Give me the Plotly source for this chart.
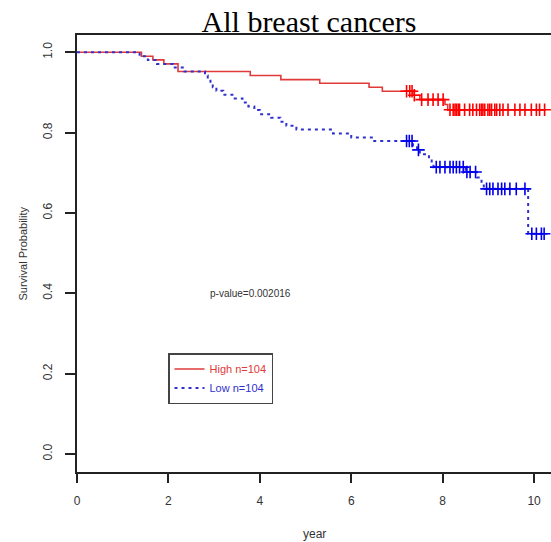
import numpy as np
import plotly.graph_objects as go

# ---------------- data ----------------
high_event_times = [1.41, 1.66, 1.90, 2.21, 3.79, 4.46, 5.31, 6.39, 6.68,
                    7.35, 7.50, 8.05, 8.11]
high_surv = [0.990, 0.981, 0.971, 0.952, 0.942, 0.932, 0.923, 0.913, 0.903,
             0.893, 0.882, 0.870, 0.857]
high_censor = [7.21, 7.28, 7.33, 7.38, 7.54, 7.68, 7.79, 7.90, 8.01,
               8.16, 8.23, 8.27, 8.30, 8.34, 8.37, 8.48, 8.59, 8.66, 8.74,
               8.81, 8.85, 8.88, 8.92, 8.99, 9.03, 9.07, 9.14, 9.18, 9.25,
               9.32, 9.43, 9.58, 9.69, 9.80, 9.94, 10.05, 10.12, 10.23]

low_event_times = [1.37, 1.55, 1.75, 2.10, 2.35, 2.80, 2.86, 2.92, 2.97,
                   3.05, 3.20, 3.45, 3.62, 3.75, 3.88, 4.00, 4.25, 4.45,
                   4.58, 4.80, 5.60, 6.00, 6.45, 7.35, 7.44, 7.50, 7.70,
                   7.76, 7.80, 8.50, 8.75, 8.85, 8.90, 9.87]
low_surv = [0.990, 0.981, 0.971, 0.962, 0.952, 0.942, 0.933, 0.923, 0.913,
            0.904, 0.894, 0.885, 0.875, 0.865, 0.856, 0.846, 0.837, 0.827,
            0.817, 0.808, 0.798, 0.788, 0.779, 0.768, 0.757, 0.746, 0.735,
            0.725, 0.714, 0.702, 0.688, 0.674, 0.660, 0.548]
low_censor = [7.21, 7.27, 7.33, 7.47, 7.86, 7.94, 8.05, 8.16, 8.23, 8.30,
              8.37, 8.45, 8.53, 8.60, 8.72, 8.96, 9.03, 9.10, 9.21, 9.29,
              9.36, 9.47, 9.61, 9.80, 9.95, 10.05, 10.16, 10.22]

x_ticks = [0, 2, 4, 6, 8, 10]
y_ticks = [0.0, 0.2, 0.4, 0.6, 0.8, 1.0]

title_text = "All breast cancers"
pvalue_text = "p-value=0.002016"
high_label = "High n=104"
low_label = "Low n=104"


def step_curve(times, surv, censor):
    end = max(censor[-1], times[-1])
    xs = [0.0] + list(times) + [end]
    ys = [1.0] + list(surv) + [surv[-1]]
    return xs, ys


def surv_at(times, surv, t):
    idx = np.searchsorted(np.asarray(times), np.asarray(t), side="right")
    vals = np.concatenate([[1.0], np.asarray(surv)])
    return vals[idx]


RED_LINE = "#e03a3a"
RED_MARK = "#ff0000"
BLUE_LINE = "#3030d0"
BLUE_MARK = "#0000ee"

fig = go.Figure()

hx, hy = step_curve(high_event_times, high_surv, high_censor)
lx, ly = step_curve(low_event_times, low_surv, low_censor)

fig.add_trace(go.Scatter(
    x=hx, y=hy, mode="lines", line_shape="hv",
    line=dict(color=RED_LINE, width=1.6),
    name=f"<span style='color:{RED_LINE}'>{high_label}</span>",
))
fig.add_trace(go.Scatter(
    x=lx, y=ly, mode="lines", line_shape="hv",
    line=dict(color=BLUE_LINE, width=2, dash="3px,4px"),
    name=f"<span style='color:{BLUE_LINE}'>{low_label}</span>",
))
fig.add_trace(go.Scatter(
    x=high_censor, y=surv_at(high_event_times, high_surv, high_censor),
    mode="markers", showlegend=False, hoverinfo="skip",
    marker=dict(symbol="cross-thin", size=9,
                line=dict(color=RED_MARK, width=1.6)),
))
fig.add_trace(go.Scatter(
    x=low_censor, y=surv_at(low_event_times, low_surv, low_censor),
    mode="markers", showlegend=False, hoverinfo="skip",
    marker=dict(symbol="cross-thin", size=9,
                line=dict(color=BLUE_MARK, width=1.6)),
))

axis_font = dict(family="Liberation Sans, Arial, sans-serif", size=12, color="#333333")

fig.update_layout(
    width=551, height=542,
    margin=dict(l=77, r=0, t=35, b=70),
    paper_bgcolor="white", plot_bgcolor="white",
    title=dict(text=title_text, x=309 / 551, xanchor="center",
               y=1 - 21 / 542, yanchor="middle", xref="container", yref="container",
               font=dict(family="Liberation Serif, Times New Roman, serif", size=30, color="black")),
    xaxis=dict(range=[0, 10.37], tickvals=x_ticks, ticktext=[str(v) for v in x_ticks],
               showline=True, linecolor="#222222", linewidth=2, mirror=True,
               ticks="outside", ticklen=9, tickwidth=1.5, tickcolor="#222222",
               showgrid=False, zeroline=False, tickfont=axis_font,
               ticklabelstandoff=8, automargin=False),
    yaxis=dict(range=[-0.045, 1.043], tickvals=y_ticks,
               ticktext=[f"{v:.1f}" for v in y_ticks], tickangle=-90,
               showline=True, linecolor="#222222", linewidth=2, mirror=False,
               ticks="outside", ticklen=10, tickwidth=1.5, tickcolor="#222222",
               showgrid=False, zeroline=False, tickfont=axis_font,
               ticklabelstandoff=8, automargin=False),
    legend=dict(x=(168 - 77) / 474, y=1 - (353 - 35) / 437, xanchor="left", yanchor="top",
                bgcolor="white", bordercolor="#444444", borderwidth=1.5,
                font=dict(family="Liberation Sans, Arial, sans-serif", size=11),
                tracegroupgap=0),
    showlegend=True,
)

fig.add_annotation(x=3.8, y=0.40, xref="x", yref="y", text=pvalue_text,
                   showarrow=False,
                   font=dict(family="Liberation Sans, Arial, sans-serif", size=10, color="#333333"))
fig.add_annotation(x=0.5, y=0, xref="paper", yref="paper",
                   text="year", showarrow=False, yshift=-71,
                   font=dict(family="Liberation Sans, Arial, sans-serif", size=12, color="#333333"))
fig.add_annotation(x=0, y=0.5, xref="paper", yref="paper",
                   text="Survival Probability", showarrow=False, textangle=-90,
                   xshift=-63,
                   font=dict(family="Liberation Sans, Arial, sans-serif", size=11, color="#333333"))

fig.write_html("out.html", config={"displayModeBar": False},
               post_script="document.body.style.margin='0';document.body.style.overflow='hidden';")
